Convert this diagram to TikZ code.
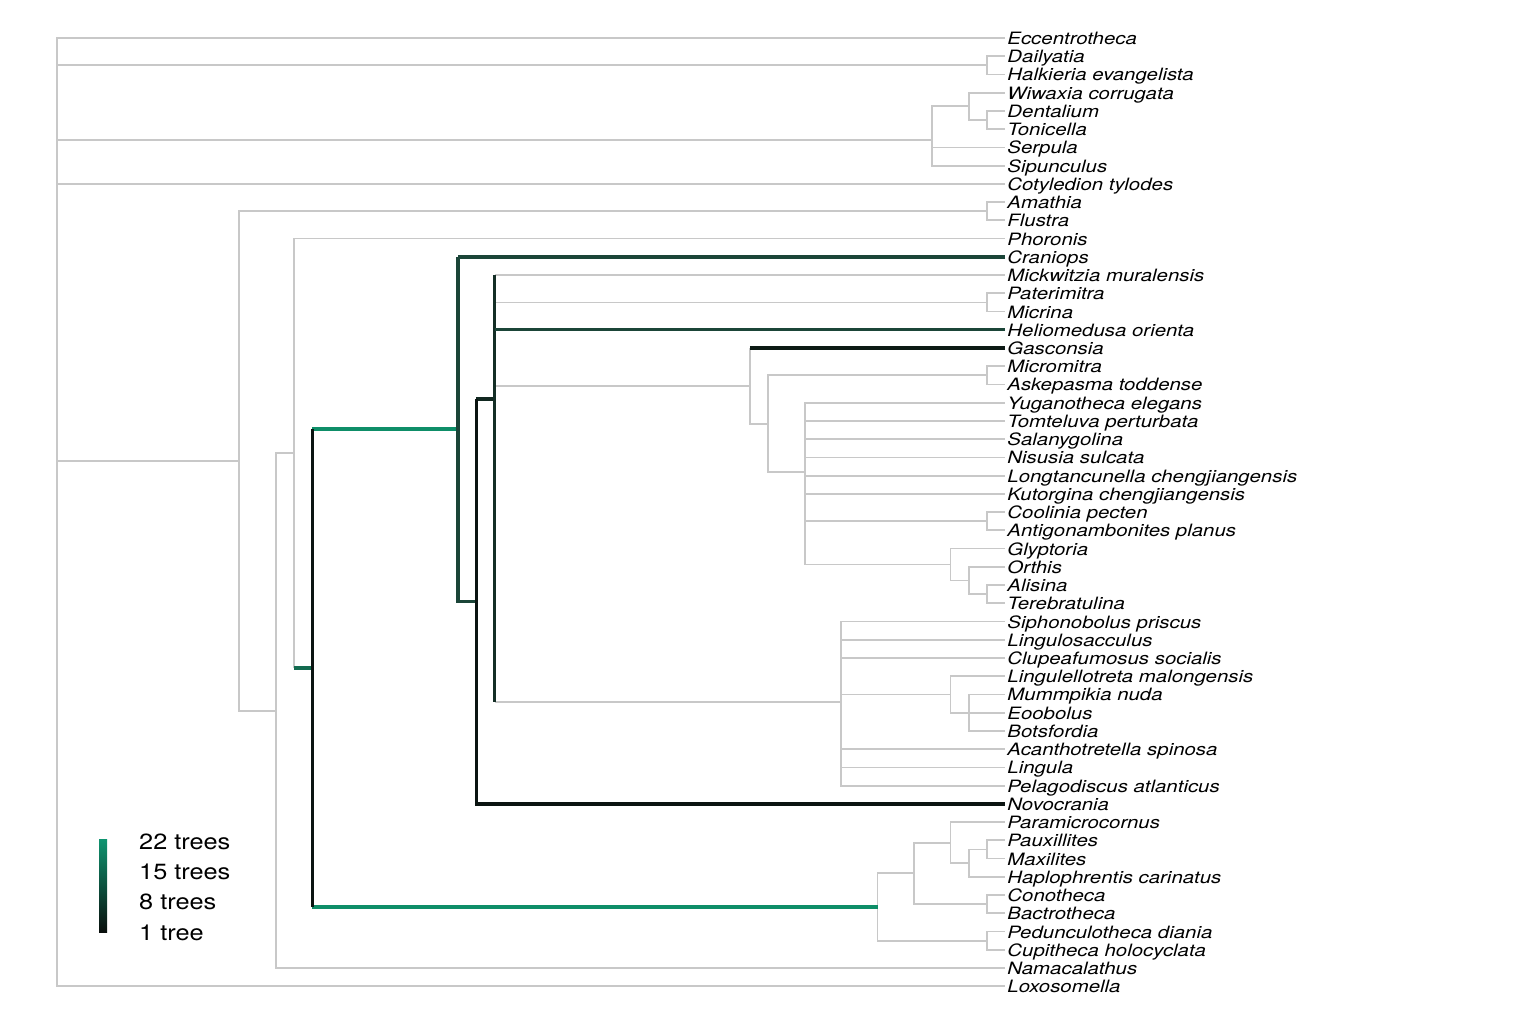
\documentclass[tikz,border=0pt]{standalone}
\usepackage{fontspec}
\setmainfont{TeX Gyre Heros}
\newfontfamily\labfont{TeX Gyre Heros}[FakeStretch=1.2]
\newfontfamily\legfont{TeX Gyre Heros}[FakeStretch=1.15]
\definecolor{gline}{RGB}{200,200,200}
\definecolor{bgreen}{RGB}{14,142,104}
\definecolor{mgreen}{RGB}{19,107,80}
\definecolor{dgreen}{RGB}{27,69,56}
\definecolor{dgreenb}{RGB}{20,46,38}
\definecolor{nblack}{RGB}{11,20,17}
\definecolor{cmid}{RGB}{17,40,32}
\definecolor{cgas}{RGB}{13,26,21}
\definecolor{legtop}{RGB}{15,148,112}
\definecolor{legbot}{RGB}{10,15,13}
\tikzset{
  gbr/.style={draw=gline, line width=1.8pt, line cap=square},
  cbr/.style={line width=3.4pt, line cap=square},
  lab/.style={anchor=base west, inner sep=0pt, xshift=2pt, yshift=-6.5pt,
    font=\labfont\fontsize{17}{20}\selectfont\itshape},
  legtxt/.style={anchor=base west, inner sep=0pt, font=\legfont\fontsize{22}{26}\selectfont}
}
\begin{document}
\begin{tikzpicture}
\useasboundingbox (0pt,0pt) rectangle (1536pt,-1024pt);
\begin{scope}[shift={(57pt,-38pt)}, x=18.235pt, y=-18.235pt]
% tips
\foreach \nm [count=\i from 0] in {Eccentrotheca, Dailyatia, Halkieria evangelista, Wiwaxia corrugata, Dentalium, Tonicella, Serpula, Sipunculus, Cotyledion tylodes, Amathia, Flustra, Phoronis, Craniops, Mickwitzia muralensis, Paterimitra, Micrina, Heliomedusa orienta, Gasconsia, Micromitra, Askepasma toddense, Yuganotheca elegans, Tomteluva perturbata, Salanygolina, Nisusia sulcata, Longtancunella chengjiangensis, Kutorgina chengjiangensis, Coolinia pecten, Antigonambonites planus, Glyptoria, Orthis, Alisina, Terebratulina, Siphonobolus priscus, Lingulosacculus, Clupeafumosus socialis, Lingulellotreta malongensis, Mummpikia nuda, Eoobolus, Botsfordia, Acanthotretella spinosa, Lingula, Pelagodiscus atlanticus, Novocrania, Paramicrocornus, Pauxillites, Maxilites, Haplophrentis carinatus, Conotheca, Bactrotheca, Pedunculotheca diania, Cupitheca holocyclata, Namacalathus, Loxosomella}{
  \coordinate (t\i) at (52,\i);
  \node[lab] (l\i) at (t\i) {\nm};
}
% internal nodes
\coordinate (root) at (0,15.05);
\coordinate (nDH) at (51,1.5);
\coordinate (nDT) at (51,4.5);
\coordinate (nWi) at (50,3.75);
\coordinate (nWS) at (48,5.583);
\coordinate (nAF) at (51,9.5);
\coordinate (nPM) at (51,14.5);
\coordinate (nMA) at (51,18.5);
\coordinate (nCA) at (51,26.5);
\coordinate (nAT) at (51,30.5);
\coordinate (nOr) at (50,29.75);
\coordinate (nGl) at (49,28.875);
\coordinate (nPoly) at (41,23.797);
\coordinate (nMic) at (39,21.148);
\coordinate (nGas) at (38,19.074);
\coordinate (nEB) at (50,37);
\coordinate (nLm) at (49,36);
\coordinate (nLing) at (43,36.43);
\coordinate (n495) at (24,19.80);
\coordinate (n476) at (23,30.90);
\coordinate (n458) at (22,21.45);
\coordinate (nPaMx) at (51,44.5);
\coordinate (nHap) at (50,45.25);
\coordinate (nPara) at (49,44.125);
\coordinate (nCB) at (51,47.5);
\coordinate (nHy1) at (47,45.81);
\coordinate (nPC) at (51,49.5);
\coordinate (nHy) at (45,47.66);
\coordinate (n313) at (14,34.55);
\coordinate (n294) at (13,22.78);
\coordinate (n276) at (12,36.89);
\coordinate (n240) at (10,23.19);
% grey branches
\draw[gbr] (root) |- (t0) (root) |- (nDH) (root) |- (nWS) (root) |- (t8) (root) |- (n240) (root) |- (t52);
\draw[gbr] (nDH) |- (t1) (nDH) |- (t2);
\draw[gbr] (nWS) |- (nWi) (nWS) |- (t6) (nWS) |- (t7);
\draw[gbr] (nWi) |- (t3) (nWi) |- (nDT) (nDT) |- (t4) (nDT) |- (t5);
\draw[gbr] (n240) |- (nAF) (n240) |- (n276) (nAF) |- (t9) (nAF) |- (t10);
\draw[gbr] (n276) |- (n294) (n276) |- (t51);
\draw[gbr] (n294) |- (t11) (n294) -- (n294 |- n313);
\draw[gbr] (n495 |- t13) -- (t13) (n495 |- nPM) -- (nPM) (n495 |- nGas) -- (nGas) (n495 |- nLing) -- (nLing);
\draw[gbr] (nPM) |- (t14) (nPM) |- (t15);
\draw[gbr] (nGas) |- (nMic) (nGas) -- (nGas |- t17);
\draw[gbr] (nMic) |- (nMA) (nMic) |- (nPoly) (nMA) |- (t18) (nMA) |- (t19);
\foreach \k in {20,...,25}{\draw[gbr] (nPoly) |- (t\k);}
\draw[gbr] (nPoly) |- (nCA) (nPoly) |- (nGl) (nCA) |- (t26) (nCA) |- (t27);
\draw[gbr] (nGl) |- (t28) (nGl) |- (nOr) (nOr) |- (t29) (nOr) |- (nAT) (nAT) |- (t30) (nAT) |- (t31);
\foreach \k in {32,33,34,39,40,41}{\draw[gbr] (nLing) |- (t\k);}
\draw[gbr] (nLing) |- (nLm) (nLm) |- (t35) (nLm) |- (nEB) (nEB) |- (t36) (nEB) |- (t37) (nEB) |- (t38);
\draw[gbr] (nHy) |- (nHy1) (nHy) |- (nPC) (nHy1) |- (nPara) (nHy1) |- (nCB);
\draw[gbr] (nPara) |- (t43) (nPara) |- (nHap) (nHap) |- (nPaMx) (nHap) |- (t46);
\draw[gbr] (nPaMx) |- (t44) (nPaMx) |- (t45) (nCB) |- (t47) (nCB) |- (t48) (nPC) |- (t49) (nPC) |- (t50);
% coloured branches
\draw[cbr, draw=mgreen] (n294 |- n313) -- (n313);
\draw[cbr, draw=bgreen] (n313 |- n458) -- (n458);
\draw[cbr, draw=bgreen] (n313 |- nHy) -- (nHy);
\draw[cbr, draw=nblack] (n313 |- n458) -- (n313 |- nHy);
\draw[cbr, draw=dgreen] (n458 |- t12) -- (n458 |- n476) -- (n476);
\draw[cbr, draw=dgreen] (n458 |- t12) -- (t12);
\draw[cbr, draw=cmid] (n476 |- n495) -- (n495);
\draw[cbr, draw=nblack] (n476 |- n495) -- (n476 |- t42) -- (t42);
\draw[cbr, draw=dgreenb] (n495 |- t13) -- (n495 |- nLing);
\draw[cbr, draw=dgreen] (n495 |- t16) -- (t16);
\draw[cbr, draw=cgas] (nGas |- t17) -- (t17);
\end{scope}
% legend
\shade[top color=legtop, bottom color=legbot] (99pt,-839pt) rectangle (107pt,-932pt);
\node[legtxt] (k1) at (139pt,-849pt) {22 trees};
\node[legtxt] (k2) at (139pt,-879pt) {15 trees};
\node[legtxt] (k3) at (139pt,-909pt) {8 trees};
\node[legtxt] (k4) at (139pt,-940pt) {1 tree};
\end{tikzpicture}
\end{document}
